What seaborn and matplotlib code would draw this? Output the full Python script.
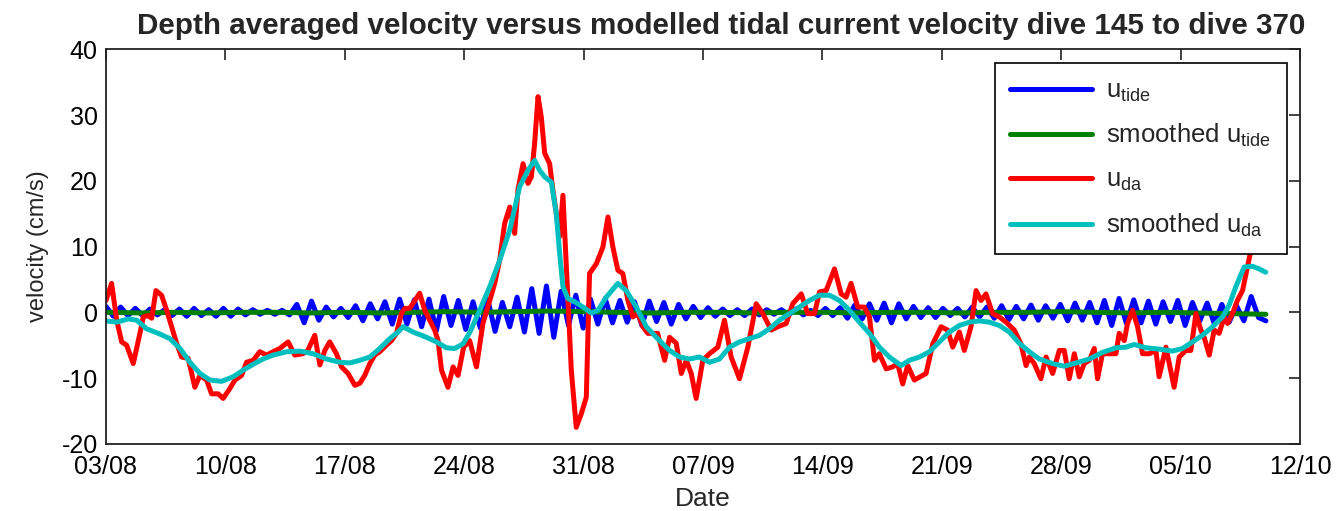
import numpy as np
import pandas as pd
import matplotlib
matplotlib.use("Agg")
import matplotlib.pyplot as plt
import seaborn as sns

# ---- data (days after 03/08) ----
start = pd.Timestamp("2012-08-03")

# depth averaged velocity u_da (cm/s)
uda_days = [0.00, 0.33, 0.63, 0.92, 1.21, 1.60, 1.99, 2.19, 2.48, 2.68,
            2.93, 3.26, 3.56, 3.85, 4.14, 4.43, 4.82, 5.21, 5.51, 5.90,
            6.19, 6.58, 6.87, 7.26, 7.56, 7.95, 8.24, 8.63, 9.02, 9.41,
            9.80, 10.19, 10.68, 11.07, 11.54, 11.83, 12.24, 12.54, 12.83, 13.12,
            13.51, 13.81, 14.19, 14.59, 14.88, 15.17, 15.47, 15.76, 16.05, 16.44,
            16.74, 17.03, 17.32, 17.52, 17.81, 18.39, 18.69, 18.98, 19.27, 19.47,
            19.67, 20.05, 20.35, 20.64, 20.97, 21.32, 21.72, 22.10, 22.50, 22.79,
            23.08, 23.37, 23.67, 23.96, 24.15, 24.45, 24.74, 24.94, 25.13, 25.33,
            25.52, 25.72, 26.01, 26.20, 26.40, 26.60, 26.79, 26.99, 27.28, 27.57,
            27.87, 28.16, 28.35, 28.75, 29.13, 29.43, 29.72, 30.01, 30.30, 30.60,
            30.89, 31.18, 31.48, 31.77, 32.34, 32.75, 33.04, 33.43, 33.73, 34.02,
            34.31, 34.60, 34.99, 35.38, 35.87, 36.26, 36.65, 37.14, 37.63, 38.12,
            38.51, 39.00, 39.38, 39.88, 40.26, 40.76, 41.14, 41.54, 41.83, 42.22,
            42.71, 43.10, 43.39, 43.68, 44.07, 44.46, 44.76, 45.05, 45.34, 45.74,
            46.12, 46.41, 46.71, 47.00, 47.39, 48.08, 48.47, 48.96, 49.34, 49.64,
            50.03, 50.32, 50.71, 51.01, 51.30, 51.59, 51.98, 52.37, 52.77, 53.25,
            53.64, 53.94, 54.13, 54.42, 54.81, 55.11, 55.50, 55.89, 56.18, 56.47,
            56.77, 57.06, 57.35, 57.65, 57.94, 58.13, 58.42, 58.82, 59.21, 59.40,
            59.70, 59.89, 60.18, 60.48, 60.77, 61.16, 61.55, 61.74, 62.14, 62.62,
            62.92, 63.31, 63.60, 63.90, 64.19, 64.38, 64.68, 64.97, 65.26, 65.56,
            65.75, 66.04, 66.33, 66.63, 66.92, 67.12, 67.49]
uda_vals = [1.8, 4.4, -1.2, -4.5, -5.0, -7.8, -3.2, -0.7, -0.5, -0.9,
            3.3, 2.6, 0.3, -2.2, -4.7, -6.8, -7.0, -11.4, -9.6, -10.3,
            -12.4, -12.4, -13.1, -11.6, -10.3, -9.6, -7.6, -7.3, -6.0, -6.5,
            -6.0, -5.5, -4.5, -6.5, -6.3, -5.8, -3.5, -8.0, -5.8, -4.5,
            -6.3, -8.3, -9.3, -11.1, -10.8, -9.6, -7.8, -6.5, -6.0, -5.0,
            -4.3, -3.2, -0.2, 0.6, 0.6, 2.9, 0.3, -1.2, -2.7, -4.3,
            -8.8, -11.4, -8.3, -9.6, -5.3, -4.3, -8.3, -1.7, 1.8, 4.4,
            7.9, 13.5, 16.0, 12.0, 18.6, 22.6, 19.6, 20.6, 25.7, 32.8,
            29.7, 24.2, 22.6, 18.6, 15.0, 11.5, 17.8, 6.9, -8.8, -17.5,
            -15.4, -12.9, 5.9, 7.4, 9.9, 14.5, 9.9, 6.4, 5.9, 1.8,
            -0.7, -0.2, -2.2, -3.2, -3.2, -7.3, -3.8, -4.7, -9.3, -7.3,
            -9.3, -13.1, -7.3, -6.3, -5.3, -1.2, -6.8, -10.1, -5.3, 1.3,
            -0.2, -2.7, -2.2, -1.7, 1.3, 2.8, -0.2, -0.2, 3.1, 3.3,
            6.6, 2.8, 2.3, 4.4, 0.8, 0.8, -0.7, -7.3, -6.3, -8.6,
            -8.3, -7.8, -10.9, -8.1, -10.3, -9.3, -4.8, -2.2, -2.7, -5.3,
            -3.0, -5.8, -2.2, 3.3, 1.8, 2.8, -0.2, -0.7, -1.5, -2.7,
            -4.8, -8.1, -6.8, -7.8, -10.1, -6.8, -9.3, -5.8, -5.8, -10.1,
            -6.3, -9.8, -7.8, -7.3, -5.5, -10.1, -6.3, -6.3, -6.3, -3.2,
            -4.3, -1.7, 0.3, -2.2, -6.3, -6.3, -5.8, -9.8, -5.3, -11.4,
            -6.8, -5.8, -5.8, -0.2, -2.7, -3.8, -6.5, -2.7, -3.2, -0.7,
            -1.7, -0.2, 1.8, 3.3, 6.9, 9.4, 12.5]

# smoothed u_da (cm/s)
uda_s_days = [0.00, 0.63, 1.31, 1.80, 2.38, 3.06, 3.75, 4.34, 4.92, 5.51,
              6.09, 6.78, 7.46, 8.04, 8.63, 9.21, 9.80, 10.59, 11.37, 12.14,
              12.93, 13.71, 14.29, 14.88, 15.47, 16.05, 16.64, 17.12, 17.42, 18.00,
              18.79, 19.37, 19.96, 20.45, 20.93, 21.32, 21.91, 22.50, 23.08, 23.67,
              24.25, 24.74, 25.13, 25.42, 25.72, 26.11, 26.40, 26.60, 26.79, 27.08,
              27.48, 27.96, 28.45, 28.84, 29.33, 30.01, 30.50, 31.09, 31.68, 32.45,
              33.04, 33.63, 34.21, 34.80, 35.38, 35.97, 36.56, 37.14, 37.73, 38.31,
              38.90, 39.48, 40.07, 40.66, 41.24, 41.83, 42.42, 43.00, 43.59, 44.17,
              44.76, 45.34, 45.93, 46.61, 47.10, 47.69, 48.27, 48.86, 49.44, 50.03,
              50.62, 51.20, 51.79, 52.37, 52.96, 53.54, 54.13, 54.72, 55.50, 56.18,
              56.87, 57.65, 58.42, 59.21, 59.80, 60.28, 60.97, 61.74, 62.52, 63.11,
              63.70, 64.28, 64.87, 65.46, 65.85, 66.24, 66.73, 67.21, 67.60, 67.99]
uda_s_vals = [-1.3, -1.5, -1.0, -1.2, -2.5, -3.2, -4.0, -5.5, -7.6, -9.3,
              -10.3, -10.5, -9.8, -8.8, -7.9, -7.1, -6.5, -6.0, -5.9, -6.3,
              -7.1, -7.6, -7.7, -7.3, -6.8, -5.5, -4.0, -3.0, -2.2, -3.0,
              -3.8, -4.5, -5.4, -5.5, -4.8, -3.1, 0.3, 3.9, 7.9, 12.5,
              19.1, 21.6, 23.1, 21.6, 20.6, 19.8, 15.0, 8.9, 3.9, 2.1,
              1.6, 0.8, -0.1, 0.3, 2.3, 4.4, 3.3, 0.8, -2.2, -4.3,
              -5.8, -6.8, -7.1, -6.8, -7.6, -7.1, -5.3, -4.5, -4.0, -3.5,
              -2.5, -1.2, -0.2, 0.8, 1.8, 2.6, 2.6, 1.8, 0.3, -1.5,
              -3.2, -5.3, -6.8, -8.1, -7.3, -6.8, -6.0, -4.5, -3.0, -2.0,
              -1.5, -1.3, -1.5, -2.0, -3.0, -4.7, -6.0, -7.1, -7.8, -8.2,
              -7.7, -7.1, -6.1, -5.4, -5.3, -4.9, -5.4, -5.6, -5.9, -5.5,
              -4.5, -3.5, -2.2, -0.7, 1.1, 3.9, 6.9, 7.0, 6.6, 6.1]

# modelled tidal velocity u_tide (cm/s), sampled at dive times
utide_days = np.linspace(0.0, 68.0, 159)
utide_vals = [0.9, -0.6, 0.8, -0.5, 0.6, -0.5, 0.5, -0.4, 0.4, -0.5,
              0.5, -0.6, 0.6, -0.5, 0.4, -0.6, 0.6, -0.6, 0.5, -0.4,
              0.4, -0.3, 0.3, -0.3, 0.3, -0.4, 1.2, -1.6, 1.7, -1.2,
              0.8, -0.7, 0.6, -0.8, 1.0, -1.3, 1.3, -1.0, 1.6, -1.8,
              2.0, -1.8, 1.9, -2.2, 2.0, -2.8, 2.4, -2.0, 1.8, -2.6,
              1.6, -2.4, 2.0, -2.9, 1.5, -2.2, 2.3, -3.0, 3.6, -3.2,
              4.0, -3.8, 3.2, -2.0, 2.6, -2.4, 2.0, -1.8, 2.1, -1.6,
              1.8, -1.5, 1.6, -2.0, 1.7, -1.4, 1.5, -1.8, 1.2, -1.0,
              0.9, -0.8, 0.7, -0.6, 0.5, -0.5, 0.4, -0.5, 0.5, -0.4,
              0.4, -0.3, 0.4, -0.4, 0.5, -0.4, 0.3, -0.5, 0.6, -0.5,
              0.7, -0.9, 1.1, -1.0, 1.3, -1.2, 1.4, -1.6, 1.3, -1.0,
              0.9, -0.8, 0.7, -0.8, 0.6, -0.5, 0.6, -0.7, 0.8, -0.7,
              0.8, -0.9, 1.0, -1.1, 0.9, -1.0, 1.1, -1.2, 1.0, -0.9,
              1.2, -1.3, 1.4, -1.2, 1.5, -1.6, 1.8, -2.0, 2.1, -1.7,
              1.9, -1.6, 1.7, -1.8, 1.6, -1.4, 1.8, -2.0, 1.5, -1.3,
              1.4, -1.8, 1.2, -1.5, 1.0, -1.3, 2.4, -0.8, -1.3]

# smoothed u_tide (cm/s)
utide_s_days = [0, 2, 4, 6, 8, 10, 12, 14, 16, 18, 20, 22, 24, 26, 28, 30, 32, 34,
                36, 38, 40, 42, 44, 46, 48, 50, 52, 54, 56, 58, 60, 62, 64, 66, 68]
utide_s_vals = [0.0, -0.1, 0.0, -0.1, 0.0, 0.0, -0.1, 0.0, -0.1, 0.0, 0.1, 0.0,
                0.1, 0.2, 0.1, 0.0, -0.1, 0.0, 0.0, -0.1, 0.0, 0.0, -0.1, 0.0,
                0.0, -0.1, 0.0, 0.0, 0.1, 0.0, -0.1, 0.0, -0.1, -0.2, -0.3]

tick_labels = ["03/08", "10/08", "17/08", "24/08", "31/08", "07/09",
               "14/09", "21/09", "28/09", "05/10", "12/10"]


def frame(days, vals):
    return pd.DataFrame({"date": start + pd.to_timedelta(np.asarray(days, float), unit="D"),
                         "v": vals})


sns.set_style("white")
plt.rcParams["font.family"] = ["Liberation Sans", "DejaVu Sans"]
plt.rcParams["mathtext.default"] = "regular"
plt.rcParams["axes.unicode_minus"] = False

fig = plt.figure(figsize=(13.38, 5.11), dpi=100)
ax = fig.add_axes([0.0792, 0.1315, 0.8924, 0.7720])

lw = 3.6
sns.lineplot(data=frame(utide_days, utide_vals), x="date", y="v", ax=ax,
             color=(0, 0, 1), lw=lw, estimator=None, label=r"$\mathregular{u_{tide}}$")
sns.lineplot(data=frame(utide_s_days, utide_s_vals), x="date", y="v", ax=ax,
             color=(0, 0.5, 0), lw=lw, estimator=None,
             label=r"smoothed $\mathregular{u_{tide}}$")
sns.lineplot(data=frame(uda_days, uda_vals), x="date", y="v", ax=ax,
             color=(1, 0, 0), lw=lw, estimator=None, label=r"$\mathregular{u_{da}}$")
sns.lineplot(data=frame(uda_s_days, uda_s_vals), x="date", y="v", ax=ax,
             color=(0, 0.75, 0.75), lw=lw, estimator=None,
             label=r"smoothed $\mathregular{u_{da}}$")

ticks = [start + pd.Timedelta(days=7 * i) for i in range(len(tick_labels))]
ax.set_xlim(ticks[0], ticks[-1])
ax.set_xticks(ticks)
ax.set_xticklabels(tick_labels)
ax.set_ylim(-20, 40)
ax.set_yticks(np.arange(-20, 41, 10))

ax.tick_params(direction="in", length=8, width=1.2, top=True, right=True,
               labelsize=18, colors="#222222", labelcolor="black")
ax.tick_params(axis="x", pad=8)
ax.tick_params(axis="y", pad=6)
for s in ax.spines.values():
    s.set_visible(True)
    s.set_linewidth(1.3)
    s.set_color("#222222")

ax.set_xlabel("Date", fontsize=19, labelpad=6)
ax.set_ylabel("velocity (cm/s)", fontsize=17, labelpad=9)
ax.set_title("Depth averaged velocity versus modelled tidal current velocity dive 145 to dive 370",
             fontsize=21.3, fontweight="bold", pad=11, x=0.515)

leg = ax.legend(loc="upper right", bbox_to_anchor=(0.989, 0.965), borderaxespad=0,
                fontsize=18.5, handlelength=3.2, labelspacing=0.72, handletextpad=0.55,
                fancybox=False, framealpha=1, edgecolor="black", borderpad=0.6)
leg.get_frame().set_linewidth(1.2)

fig.savefig("out.png", dpi=100)
